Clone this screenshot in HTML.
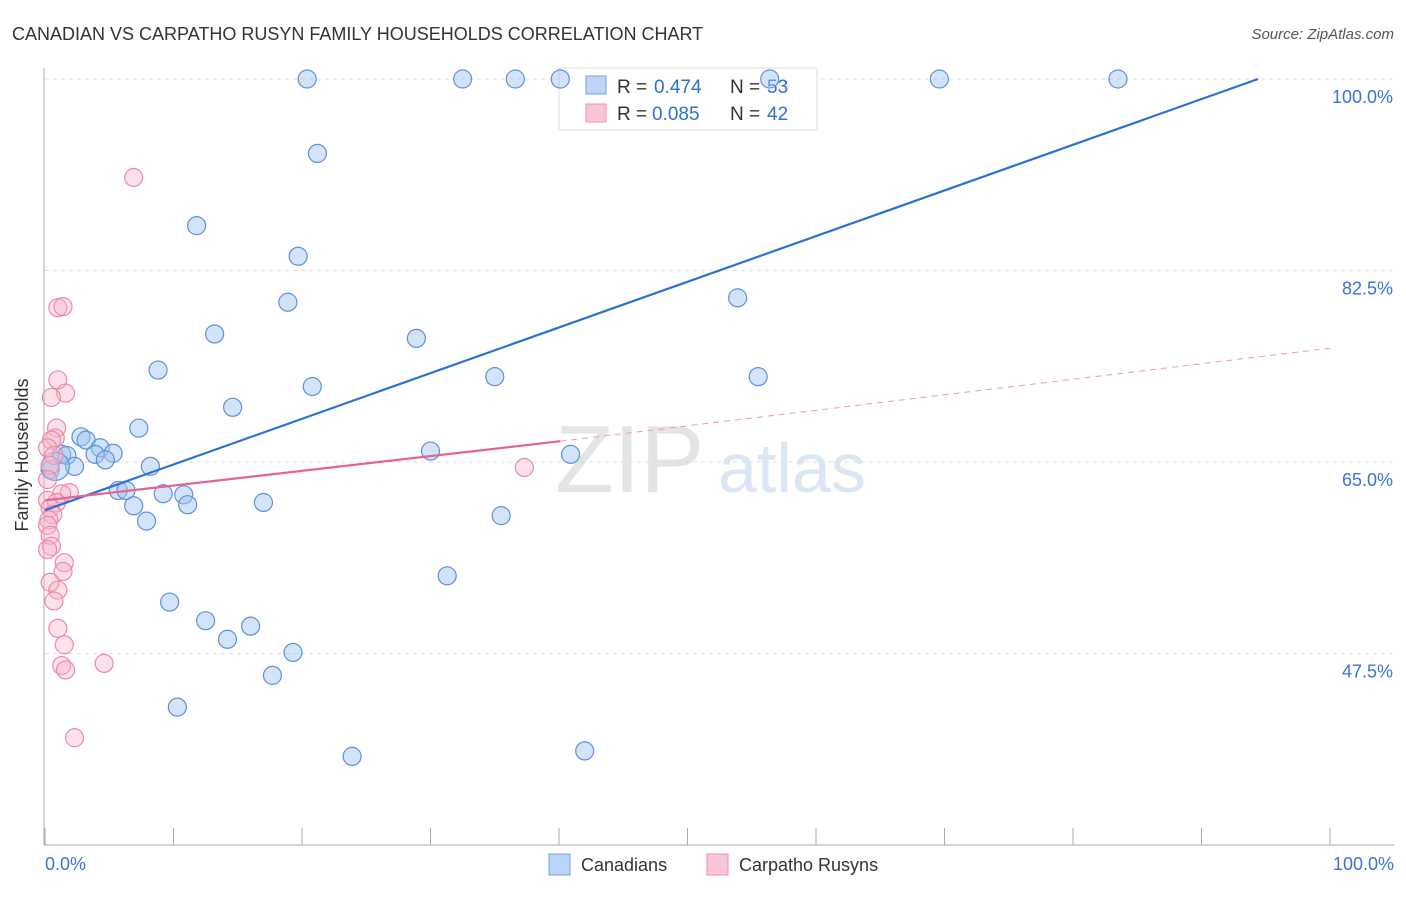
<!DOCTYPE html>
<html><head><meta charset="utf-8"><style>
body{margin:0;background:#fff;font-family:"Liberation Sans",sans-serif;}
svg text{font-family:"Liberation Sans",sans-serif;}
</style></head><body>
<svg width="1406" height="892" viewBox="0 0 1406 892">
<text x="12" y="40" font-size="18" fill="#333">CANADIAN VS CARPATHO RUSYN FAMILY HOUSEHOLDS CORRELATION CHART</text>
<text x="1394" y="39" font-size="15" fill="#555" text-anchor="end" font-style="italic">Source: ZipAtlas.com</text>
<text x="555" y="492" font-size="96" fill="#e4e4e4" font-family="Liberation Serif">ZIP</text>
<text x="718" y="492" font-size="70" fill="#dbe6f5">atlas</text>
<g id="grid"></g>
<g id="axes"></g>
<g>
<rect x="559" y="68" width="258" height="62" fill="#fff" stroke="#ddd"/>
<rect x="586" y="76" width="20" height="18" fill="#bcd4f5" stroke="#6f9fe0"/>
<rect x="586" y="104" width="20" height="18" fill="#fbc6d4" stroke="#ee8fab"/>
<text x="617" y="93" font-size="19" fill="#333">R =</text>
<text x="654" y="93" font-size="19" fill="#2e6fd6">0.474</text>
<text x="730" y="93" font-size="19" fill="#333">N =</text>
<text x="767" y="93" font-size="19" fill="#2e6fd6">53</text>
<text x="617" y="120" font-size="19" fill="#333">R =</text>
<text x="652" y="120" font-size="19" fill="#2e6fd6">0.085</text>
<text x="730" y="120" font-size="19" fill="#333">N =</text>
<text x="767" y="120" font-size="19" fill="#2e6fd6">42</text>
</g>
<g id="marks"></g>
<text x="28" y="455" font-size="18" fill="#333" transform="rotate(-90 28 455)" text-anchor="middle">Family Households</text>
<text x="45" y="870" font-size="18" fill="#3b73d6">0.0%</text>
<text x="1394" y="870" font-size="18" fill="#3b73d6" text-anchor="end">100.0%</text>
<g>
<rect x="549" y="854" width="21" height="21" fill="#bcd4f5" stroke="#6f9fe0"/>
<text x="581" y="871" font-size="18" fill="#333">Canadians</text>
<rect x="707" y="854" width="21" height="21" fill="#fbc6d4" stroke="#ee8fab"/>
<text x="739" y="871" font-size="18" fill="#333">Carpatho Rusyns</text>
</g>
</svg>
<script>
const yTicks=[100,82.5,65,47.5];
const yTickLabels=["100.0%","82.5%","65.0%","47.5%"];
const xTicks=[0,10,20,30,40,50,60,70,80,90,100];
const canX=[20.4,32.5,36.6,40.1,56.4,69.6,83.5,21.2,11.8,19.7,18.9,53.9,13.2,28.9,8.8,20.8,35.0,55.5,14.6,7.3,2.8,3.2,4.3,3.9,5.3,1.3,1.7,4.7,2.3,8.2,0.4,30.0,40.9,5.7,6.3,9.2,10.8,6.9,11.1,17.0,35.5,7.9,31.3,9.7,12.5,16.0,14.2,19.3,17.7,10.3,23.9,42.0,0.8];
const canY=[100,100,100,100,100,100,100,93.2,86.6,83.8,79.6,80.0,76.7,76.3,73.4,71.9,72.8,72.8,70.0,68.1,67.3,67.0,66.3,65.7,65.8,65.7,65.6,65.2,64.6,64.6,64.3,66.0,65.7,62.4,62.4,62.1,62.0,61.0,61.1,61.3,60.1,59.6,54.6,52.2,50.5,50.0,48.8,47.6,45.5,42.6,38.1,38.6,64.6];
const rusX=[6.9,1.0,1.4,1.0,1.6,0.5,0.9,0.8,0.5,0.2,0.7,0.4,0.2,1.9,1.3,0.2,0.9,0.4,0.6,0.3,0.2,0.4,0.5,0.2,1.5,1.4,0.4,1.0,0.7,1.0,1.5,1.3,1.6,4.6,2.3,37.3];
const rusY=[91.0,79.1,79.2,72.5,71.3,70.9,68.1,67.2,67.0,66.3,65.6,64.7,63.4,62.2,62.1,61.5,61.3,60.8,60.2,59.7,59.2,58.3,57.3,57.0,55.8,55.0,54.0,53.3,52.3,49.8,48.3,46.4,46.0,46.6,39.8,64.5];
const canTrend=[[0,60.6],[94.4,100]];
const rusTrend=[[0,61.5],[40.1,66.9]];
const rusTrendDash=[[40.1,66.9],[100,75.4]];
const NS="http://www.w3.org/2000/svg";
const X=v=>45+v*12.85, Y=v=>79+(100-v)*10.943;
function mk(t,a,p){const e=document.createElementNS(NS,t);for(const k in a)e.setAttribute(k,a[k]);document.getElementById(p).appendChild(e);return e;}
yTicks.forEach((t,i)=>{
 const l=mk('line',{x1:45,x2:1394,y1:Y(t),y2:Y(t),stroke:'#ddd','stroke-dasharray':'4 4'},'grid');
 
 
 const tx=mk('text',{x:1393,y:Y(t)+24,'font-size':18,fill:'#3b73d6','text-anchor':'end'},'grid');
 tx.textContent=yTickLabels[i];
 
 
});
let ax=mk('line',{x1:44,x2:44,y1:68,y2:845,stroke:'#aaa'},'axes');


ax=mk('line',{x1:44,x2:1394,y1:845,y2:845,stroke:'#aaa'},'axes');


xTicks.forEach(t=>{const l=mk('line',{x1:X(t),x2:X(t),y1:828,y2:845,stroke:'#aaa'},'axes');
 
 });
canX.forEach((x,i)=>{const c=mk('circle',{cx:X(x),cy:Y(canY[i]),r:i==canX.length-1?14:9,fill:'rgba(160,196,240,0.45)',stroke:'#5b91db','stroke-width':1.2},'marks');
 
 });
rusX.forEach((x,i)=>{const c=mk('circle',{cx:X(x),cy:Y(rusY[i]),r:9,fill:'rgba(248,180,200,0.4)',stroke:'#ea8aa6','stroke-width':1.2},'marks');
 
 });
function line(p,attrs,name){const l=mk('line',Object.assign({x1:X(p[0][0]),y1:Y(p[0][1]),x2:X(p[1][0]),y2:Y(p[1][1])},attrs),'marks');
 
 }
line(canTrend,{stroke:'#2c6fd8','stroke-width':2.2},'canadians-trendline');
line(rusTrend,{stroke:'#e56391','stroke-width':2.2},'carpatho-rusyns-trendline');
line(rusTrendDash,{stroke:'#e89ab4','stroke-width':1,'stroke-dasharray':'6 5'},'carpatho-rusyns-trendline-extension');
</script>
</body></html>
